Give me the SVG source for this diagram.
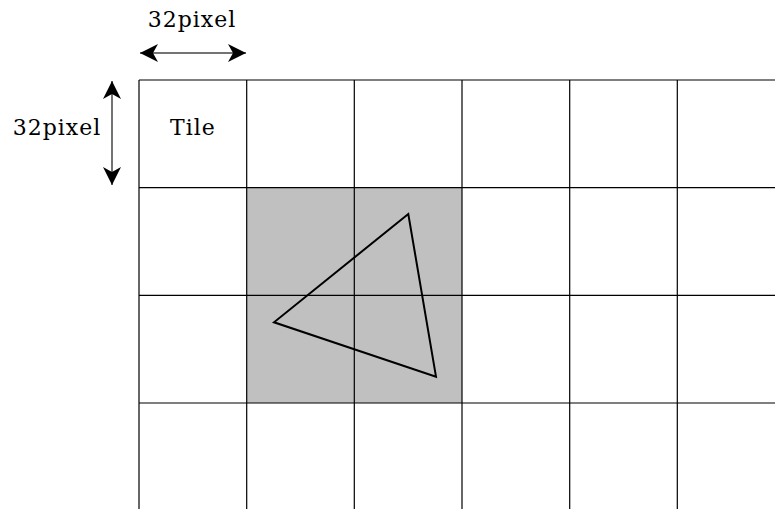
<svg xmlns="http://www.w3.org/2000/svg" width="775" height="509" viewBox="0 0 775 509">
<style>
.grid{stroke:#000;stroke-width:1.2;fill:none}
.dim{stroke:#444;stroke-width:1.5;fill:none}
.t{font-family:'DejaVu Serif',serif;font-size:22px;letter-spacing:1px;fill:#000}
</style>
<defs>
<marker id="ah" viewBox="0 0 20 20" refX="18" refY="10" markerWidth="20" markerHeight="20" markerUnits="userSpaceOnUse" orient="auto-start-reverse">
<path d="M0,1 L18,10 L0,19 L5,10 Z" fill="#000"/>
</marker>
</defs>
<rect width="775" height="509" fill="#fff"/>
<g id="highlight">
<rect x="246.7" y="187.7" width="215.3" height="215.3" fill="#c0c0c0"/>
</g>
<g id="grid" class="grid">
<line x1="139" y1="80" x2="775" y2="80"/>
<line x1="139" y1="187.7" x2="775" y2="187.7"/>
<line x1="139" y1="295.3" x2="775" y2="295.3"/>
<line x1="139" y1="403" x2="775" y2="403"/>
<line x1="139" y1="80" x2="139" y2="509"/>
<line x1="246.7" y1="80" x2="246.7" y2="509"/>
<line x1="354.3" y1="80" x2="354.3" y2="509"/>
<line x1="462" y1="80" x2="462" y2="509"/>
<line x1="569.7" y1="80" x2="569.7" y2="509"/>
<line x1="677.3" y1="80" x2="677.3" y2="509"/>
</g>
<g id="triangle">
<polygon points="408.3,214 274,322.3 436,376.7" fill="none" stroke="#000" stroke-width="2"/>
</g>
<g id="connectors">
<line class="dim" x1="140" y1="53" x2="246" y2="53" marker-start="url(#ah)" marker-end="url(#ah)"/>
<line class="dim" x1="112" y1="81" x2="112" y2="185" marker-start="url(#ah)" marker-end="url(#ah)"/>
</g>
<g id="labels">
<text class="t" x="192" y="27" text-anchor="middle">32pixel</text>
<text class="t" x="57" y="135" text-anchor="middle">32pixel</text>
<text class="t" x="193" y="135" text-anchor="middle">Tile</text>
</g>
</svg>
